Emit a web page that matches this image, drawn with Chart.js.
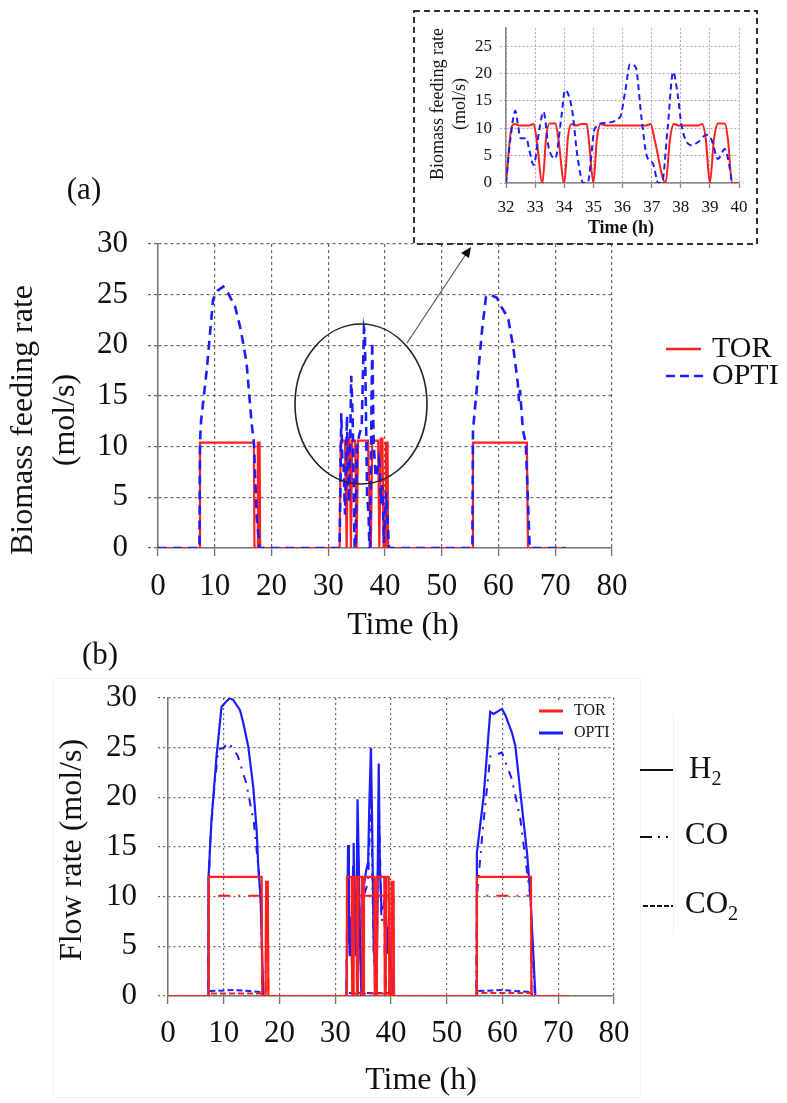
<!DOCTYPE html>
<html>
<head>
<meta charset="utf-8">
<script src="https://cdn.jsdelivr.net/npm/chart.js@4.4.1/dist/chart.umd.min.js"></script>
<style>
  html, body { margin: 0; padding: 0; background: #fff; }
  body { width: 787px; height: 1103px; position: relative; overflow: hidden; }
  canvas { position: absolute; }
  #cA { left: 0; top: 170px; }
  #cB { left: 0; top: 630px; }
  #cI { left: 413px; top: 10px; }
</style>
</head>
<body>
<canvas id="cA" width="787" height="480"></canvas>
<canvas id="cB" width="787" height="473"></canvas>
<canvas id="cI" width="345" height="235"></canvas>
<script>
// ---------- data: [time (h), rate (mol/s)] ----------

// (a) biomass feeding rate over the whole horizon
const feedTor = [
  [0, 0], [7.3, 0], [7.4, 10.4], [16.9, 10.4], [17.0, 0], [17.5, 0], [17.6, 10.4], [17.9, 10.4], [18.0, 0],
  [32.0, 0], [32.2, 10.6], [32.95, 10.6], [33.25, 0], [33.45, 10.8], [33.75, 10.8], [34.0, 0],
  [34.2, 10.6], [34.75, 10.6], [35.0, 0], [35.25, 10.6], [37.0, 10.6], [37.5, 0], [37.75, 10.6],
  [38.8, 10.6], [39.0, 0], [39.25, 10.8], [39.55, 10.8], [39.75, 0], [40.05, 0], [40.15, 10.4],
  [40.45, 10.4], [40.55, 0],
  [55.4, 0], [55.5, 10.4], [65.0, 10.4], [65.2, 0], [71.8, 0]
];
const feedOpti = [
  [0, 0], [7.3, 0], [7.4, 10.5], [7.6, 12.6], [8.6, 17.6], [9.7, 24.5], [10.5, 25.4], [11.5, 25.8],
  [12.3, 25.2], [13.6, 23.8], [14.6, 21.5], [15.6, 18.3], [16.5, 12.3], [16.9, 10.4], [17.4, 3], [17.9, 0],
  [32.0, 0], [32.3, 13.3], [32.5, 8.2], [32.7, 8.2], [32.95, 3.3], [33.3, 13.0], [33.5, 6.5], [33.7, 4.5],
  [34.05, 17.0], [34.3, 13.0], [34.65, 0], [34.8, 0], [35.05, 10.0], [35.4, 11.0], [35.9, 12.1],
  [36.3, 21.7], [36.45, 21.3], [36.85, 5.0], [37.1, 3.5], [37.25, 0], [37.35, 0], [37.75, 20.3],
  [38.0, 10.4], [38.35, 7.0], [38.6, 7.5], [38.9, 8.8], [39.1, 8.0], [39.3, 4.4], [39.5, 6.2],
  [39.65, 4.0], [39.8, 0.5], [40.2, 5.5], [40.7, 0],
  [55.4, 0], [55.5, 11.6], [57.1, 21.5], [57.8, 24.8], [58.5, 25.0], [59.7, 24.7], [60.5, 23.8],
  [61.7, 22.7], [62.6, 19.8], [63.4, 16.3], [63.6, 14.5], [63.8, 15.6], [64.3, 11.6], [64.8, 10.4],
  [65.5, 0], [71.8, 0]
];

// detail view, 32–40 h
const zoomTor = [
  [32.0, 0], [32.2, 10.4], [32.3, 10.8], [32.45, 10.5], [32.8, 10.5], [32.95, 10.8], [33.05, 8], [33.25, 0],
  [33.38, 8.5], [33.5, 10.9], [33.7, 10.9], [33.8, 8], [34.0, 0], [34.13, 8.5], [34.25, 10.8], [34.42, 10.5],
  [34.6, 10.8], [34.77, 10.8], [34.86, 7], [35.0, 0], [35.12, 8], [35.25, 10.8], [35.45, 10.5], [36.8, 10.5],
  [36.97, 10.8], [37.1, 8], [37.48, 0], [37.63, 8], [37.76, 10.8], [37.95, 10.5], [38.6, 10.5],
  [38.74, 10.8], [38.86, 8], [39.0, 0], [39.14, 8], [39.28, 10.9], [39.51, 10.9], [39.62, 8],
  [39.76, 0], [40.0, 0]
];
const zoomOpti = [
  [32.0, 0], [32.15, 8], [32.32, 13.2], [32.4, 11], [32.5, 8.2], [32.7, 8.2], [32.8, 6], [32.95, 3.3],
  [33.15, 10], [33.29, 13], [33.46, 6.6], [33.69, 4.5], [33.9, 12], [34.03, 17], [34.28, 13],
  [34.45, 5], [34.66, 0], [34.8, 0], [35.05, 10], [35.4, 11], [35.92, 12.1], [36.1, 17], [36.26, 21.7],
  [36.45, 21.2], [36.65, 12], [36.83, 5], [37.05, 3.5], [37.23, 0], [37.35, 0], [37.55, 10],
  [37.74, 20.3], [37.9, 16], [38.03, 10.4], [38.37, 6.9], [38.6, 7.5], [38.88, 8.8], [39.05, 8],
  [39.28, 4.4], [39.51, 6.2], [39.64, 4], [39.76, 0]
];

// (b) syngas flow rates
const torH2 = [
  [0, 0], [7.2, 0], [7.3, 12], [16.8, 12], [16.9, 0], [17.5, 0], [17.6, 11.5], [17.9, 11.5], [18.0, 0],
  [32.0, 0], [32.1, 12], [32.95, 12], [33.05, 0], [33.2, 0], [33.3, 12], [33.8, 12], [33.9, 0], [34.05, 0],
  [34.15, 12], [34.8, 12], [34.9, 0], [35.05, 0], [35.15, 12], [37.0, 12], [37.1, 0], [37.45, 0],
  [37.55, 12], [38.8, 12], [38.9, 0], [39.05, 0], [39.15, 12], [39.6, 12], [39.7, 0], [40.0, 0],
  [40.1, 11.5], [40.45, 11.5], [40.55, 0],
  [55.3, 0], [55.4, 12], [65.1, 12], [65.2, 0], [71.8, 0]
];
const torCO = [
  [0, 0], [7.2, 0], [7.3, 10.1], [16.8, 10.1], [16.9, 0], [17.5, 0], [17.6, 10], [17.9, 10], [18.0, 0],
  [32.0, 0], [32.1, 10.1], [32.95, 10.1], [33.05, 0], [33.2, 0], [33.3, 10.1], [33.8, 10.1], [33.9, 0],
  [34.05, 0], [34.15, 10.1], [34.8, 10.1], [34.9, 0], [35.05, 0], [35.15, 10.1], [37.0, 10.1], [37.1, 0],
  [37.45, 0], [37.55, 10.1], [38.8, 10.1], [38.9, 0], [39.05, 0], [39.15, 10.1], [39.6, 10.1], [39.7, 0],
  [40.0, 0], [40.1, 10], [40.45, 10], [40.55, 0],
  [55.3, 0], [55.4, 10.1], [65.1, 10.1], [65.2, 0], [71.8, 0]
];
const torCO2 = [
  [0, 0], [7.2, 0], [7.3, 0.25], [16.8, 0.25], [16.9, 0], [32.0, 0], [32.1, 0.25], [40.5, 0.25],
  [40.55, 0], [55.3, 0], [55.4, 0.3], [65.1, 0.3], [65.2, 0], [71.8, 0]
];
const optiH2 = [
  [0, 0], [7.2, 0], [7.25, 11.7], [7.8, 17.7], [8.7, 24.1], [9.6, 29.1], [10.2, 29.5], [11.1, 30.0],
  [11.7, 29.8], [12.9, 28.8], [13.5, 27.5], [14.4, 25.1], [15.3, 21.0], [15.9, 16.7], [16.2, 13.0],
  [16.6, 10.0], [17.1, 0],
  [32.0, 0], [32.3, 15.2], [32.45, 8], [32.6, 4], [32.8, 8], [33.0, 3], [33.2, 13], [33.3, 15.4],
  [33.5, 6], [33.7, 4], [33.9, 14], [34.0, 19.8], [34.2, 14], [34.5, 4], [34.7, 0], [34.9, 0],
  [35.1, 11], [35.5, 12.5], [35.9, 13.5], [36.1, 19], [36.4, 25], [36.6, 18], [36.9, 5], [37.2, 2],
  [37.35, 0], [37.5, 5], [37.8, 23.4], [38.0, 13], [38.3, 8.7], [38.7, 9], [38.9, 10], [39.1, 8],
  [39.3, 5], [39.6, 7], [40.0, 3], [40.5, 0],
  [55.3, 0], [55.4, 14.4], [56.6, 20.0], [57.8, 28.6], [58.4, 28.4], [59.9, 28.9], [60.5, 28.3],
  [61.7, 26.5], [62.3, 25.2], [63.5, 19.0], [64.4, 14.4], [65.0, 10.1], [65.9, 0], [71.8, 0]
];
const optiCO = [
  [0, 0], [7.2, 0], [7.3, 10], [7.5, 15], [8.1, 19.7], [9.0, 24.8], [10.0, 25.0], [10.8, 25.5],
  [11.5, 25.0], [12.5, 24.2], [14.0, 21.5], [15.4, 17.5], [16.2, 13.0], [16.6, 10.0], [17.0, 0],
  [32.0, 0], [32.3, 13], [32.6, 4], [33.3, 13], [33.7, 4], [34.0, 17], [34.7, 0], [35.1, 10],
  [35.9, 11.5], [36.4, 21], [36.9, 4], [37.35, 0], [37.8, 20], [38.3, 7.5], [38.9, 8.5], [39.3, 4],
  [39.6, 6], [40.5, 0],
  [55.3, 0], [55.4, 10], [56.5, 17], [57.8, 24.1], [59.9, 24.5], [61.7, 21.8], [63.2, 17.8],
  [64.4, 12.5], [65.0, 10.0], [65.8, 0], [71.8, 0]
];
const optiCO2 = [
  [0, 0], [7.3, 0], [7.6, 0.5], [12.0, 0.6], [16.8, 0.4], [17.1, 0], [32.0, 0], [32.3, 0.3],
  [40.4, 0.3], [40.6, 0], [55.4, 0], [55.7, 0.5], [60.0, 0.6], [65.0, 0.4], [65.5, 0], [71.8, 0]
];

// ---------- styling ----------
const SERIF = "'Liberation Serif', 'Times New Roman', serif";
const RED = '#ff1f1f';
const BLUE = '#1c1cff';
const INK = '#111';

const pts = a => a.map(([x, y]) => ({ x, y }));
const line = (label, arr, color, width, dash, order, extra) => Object.assign({
  label, data: pts(arr), borderColor: color, borderWidth: width, borderDash: dash,
  pointRadius: 0, fill: false, tension: 0, order
}, extra || {});

function font(size, bold) { return (bold ? 'bold ' : '') + size + 'px ' + SERIF; }
function text(c, s, x, y, size, align, bold) {
  c.font = font(size, bold);
  c.fillStyle = INK;
  c.textAlign = align || 'left';
  c.textBaseline = 'middle';
  c.fillText(s, x, y);
}
function vtext(c, s, x, y, size, bold) {
  c.save();
  c.translate(x, y);
  c.rotate(-Math.PI / 2);
  text(c, s, 0, 0, size, 'center', bold);
  c.restore();
}
// element name with a subscript digit
function chem(c, base, sub, x, y, size) {
  text(c, base, x, y, size, 'left');
  c.font = font(size);
  const w = c.measureText(base).width;
  text(c, sub, x + w, y + size * 0.3, size * 0.65, 'left');
}
// draw in page coordinates on a canvas placed at (ox, oy)
function overlay(id, ox, oy, draw) {
  return { id, afterDraw(chart) { const c = chart.ctx; c.save(); c.translate(-ox, -oy); draw(c, chart); c.restore(); } };
}

function axes(cfg) {
  return {
    x: {
      type: 'linear', min: cfg.xmin, max: cfg.xmax,
      afterFit: s => { s.height = cfg.xh; },
      ticks: { stepSize: cfg.xstep, font: { family: SERIF, size: cfg.fs }, color: INK, padding: cfg.xpad, maxRotation: 0, autoSkip: false },
      grid: { color: cfg.gc, lineWidth: cfg.gw, tickLength: cfg.xtl, tickColor: cfg.ac, tickWidth: 1.4, tickBorderDash: [], borderDash: cfg.dash },
      border: { display: true, color: cfg.ac, width: 1.5, dash: cfg.dash }
    },
    y: {
      type: 'linear', min: cfg.ymin, max: cfg.ymax,
      afterFit: s => { s.width = cfg.yw; },
      afterBuildTicks: s => { s.ticks = s.ticks.filter(t => t.value % cfg.ystep === 0); },
      ticks: { stepSize: cfg.ystep, font: { family: SERIF, size: cfg.fs }, color: INK, padding: cfg.ypad },
      grid: { color: cfg.gc, lineWidth: cfg.gw, tickLength: cfg.ytl, tickColor: cfg.gc, tickBorderDash: cfg.dash, borderDash: cfg.dash },
      border: { display: true, color: cfg.ac, width: 1.5, dash: cfg.dash }
    }
  };
}
const common = {
  responsive: false, devicePixelRatio: 1, animation: false, events: [],
  plugins: { legend: { display: false }, tooltip: { enabled: false } }
};

// ---------- (a) biomass feeding rate ----------
const decorA = overlay('decorA', 0, 170, c => {
  text(c, '(a)', 84, 191, 31, 'center');
  vtext(c, 'Biomass feeding rate', 24, 420, 32);
  vtext(c, '(mol/s)', 66, 420, 32);
  text(c, 'Time (h)', 403, 626, 32, 'center');
  // highlighted region and pointer to the detail view
  c.strokeStyle = '#222';
  c.lineWidth = 1.6;
  c.beginPath();
  c.ellipse(361, 404, 66, 80, 0, 0, Math.PI * 2);
  c.stroke();
  c.strokeStyle = '#555';
  c.lineWidth = 1.2;
  c.beginPath();
  c.moveTo(407, 343);
  c.lineTo(466, 254);
  c.stroke();
  c.fillStyle = '#111';
  c.beginPath();
  c.moveTo(471, 247);
  c.lineTo(461, 253);
  c.lineTo(469, 258);
  c.closePath();
  c.fill();
  // legend
  c.lineWidth = 2.6;
  c.strokeStyle = RED;
  c.setLineDash([]);
  c.beginPath(); c.moveTo(666, 349); c.lineTo(701, 349); c.stroke();
  c.strokeStyle = BLUE;
  c.setLineDash([9, 5]);
  c.beginPath(); c.moveTo(666, 376); c.lineTo(703, 376); c.stroke();
  c.setLineDash([]);
  text(c, 'TOR', 712, 349, 30);
  text(c, 'OPTI', 712, 376, 30);
});

new Chart(document.getElementById('cA'), {
  type: 'line',
  data: { datasets: [
    line('OPTI', feedOpti, BLUE, 2.6, [9, 6], 0),
    line('TOR', feedTor, RED, 2.2, [], 1)
  ] },
  options: Object.assign({}, common, {
    layout: { padding: { left: 0, right: 175, top: 74, bottom: 0 } },
    scales: axes({ xmin: 0, xmax: 80, xstep: 10, ymin: 0, ymax: 30, ystep: 5, fs: 31,
      xh: 102, yw: 158, xpad: 12, ypad: 20, xtl: 8, ytl: 10,
      gc: '#666', gw: 1.2, ac: '#777', dash: [3, 3] })
  }),
  plugins: [decorA]
});

// ---------- detail view 32–40 h ----------
const decorI = overlay('decorI', 413, 10, c => {
  vtext(c, 'Biomass feeding rate', 438, 104, 18);
  vtext(c, '(mol/s)', 460, 104, 18);
  text(c, 'Time (h)', 621, 228, 18, 'center', true);
  c.strokeStyle = '#333';
  c.lineWidth = 2;
  c.setLineDash([6, 4]);
  c.strokeRect(414, 11, 343, 233);
  c.setLineDash([]);
});

new Chart(document.getElementById('cI'), {
  type: 'line',
  data: { datasets: [
    line('TOR', zoomTor, RED, 2, [], 1, { cubicInterpolationMode: 'monotone' }),
    line('OPTI', zoomOpti, BLUE, 2, [6, 4], 0, { cubicInterpolationMode: 'monotone' })
  ] },
  options: Object.assign({}, common, {
    layout: { padding: { left: 0, right: 19, top: 1.5, bottom: 0 } },
    scales: axes({ xmin: 32, xmax: 40, xstep: 1, ymin: 0, ymax: 28.3, ystep: 5, fs: 17,
      xh: 62, yw: 93, xpad: 9, ypad: 8, xtl: 5, ytl: 6,
      gc: '#aaa', gw: 1, ac: '#888', dash: [2, 2] })
  }),
  plugins: [decorI]
});

// ---------- (b) flow rates ----------
const decorB = overlay('decorB', 0, 630, c => {
  // faint frame around the panel
  c.strokeStyle = '#f4f4f4';
  c.lineWidth = 1;
  c.strokeRect(53.5, 678.5, 587, 419);
  text(c, '(b)', 100, 656, 31, 'center');
  vtext(c, 'Flow rate (mol/s)', 73, 850, 32);
  text(c, 'Time (h)', 421, 1081, 32, 'center');
  // colour legend inside the plot
  c.fillStyle = '#fff';
  c.fillRect(531, 700, 82, 46);
  c.lineWidth = 3;
  c.strokeStyle = RED;
  c.beginPath(); c.moveTo(539, 711); c.lineTo(563, 711); c.stroke();
  c.strokeStyle = BLUE;
  c.beginPath(); c.moveTo(539, 733); c.lineTo(563, 733); c.stroke();
  text(c, 'TOR', 574, 711, 16);
  text(c, 'OPTI', 574, 733, 16);
  // line-style legend for the species
  c.strokeStyle = '#f0f0f0';
  c.lineWidth = 1;
  c.beginPath(); c.moveTo(673.5, 713); c.lineTo(673.5, 935); c.stroke();
  c.strokeStyle = '#111';
  c.lineWidth = 2;
  c.beginPath(); c.moveTo(640, 770); c.lineTo(673, 770); c.stroke();
  c.setLineDash([12, 6, 2, 6, 2, 6]);
  c.beginPath(); c.moveTo(640, 837); c.lineTo(673, 837); c.stroke();
  c.setLineDash([5, 2]);
  c.beginPath(); c.moveTo(643, 906); c.lineTo(673, 906); c.stroke();
  c.setLineDash([]);
  chem(c, 'H', '2', 689, 770, 31);
  text(c, 'CO', 685, 836, 31);
  chem(c, 'CO', '2', 685, 905, 31);
});

new Chart(document.getElementById('cB'), {
  type: 'line',
  data: { datasets: [
    line('TOR H2', torH2, RED, 2.2, [], 0),
    line('TOR CO', torCO, RED, 2, [12, 8, 2, 8], 1),
    line('TOR CO2', torCO2, RED, 2, [6, 3], 2),
    line('OPTI H2', optiH2, BLUE, 2.2, [], 3),
    line('OPTI CO', optiCO, BLUE, 2, [8, 7, 2, 7], 4),
    line('OPTI CO2', optiCO2, BLUE, 2, [6, 3], 5)
  ] },
  options: Object.assign({}, common, {
    layout: { padding: { left: 0, right: 173, top: 68, bottom: 0 } },
    scales: axes({ xmin: 0, xmax: 80, xstep: 10, ymin: 0, ymax: 30, ystep: 5, fs: 31,
      xh: 107, yw: 168, xpad: 11, ypad: 21, xtl: 8, ytl: 10,
      gc: '#666', gw: 1.2, ac: '#777', dash: [2, 3] })
  }),
  plugins: [decorB]
});
</script>
</body>
</html>
